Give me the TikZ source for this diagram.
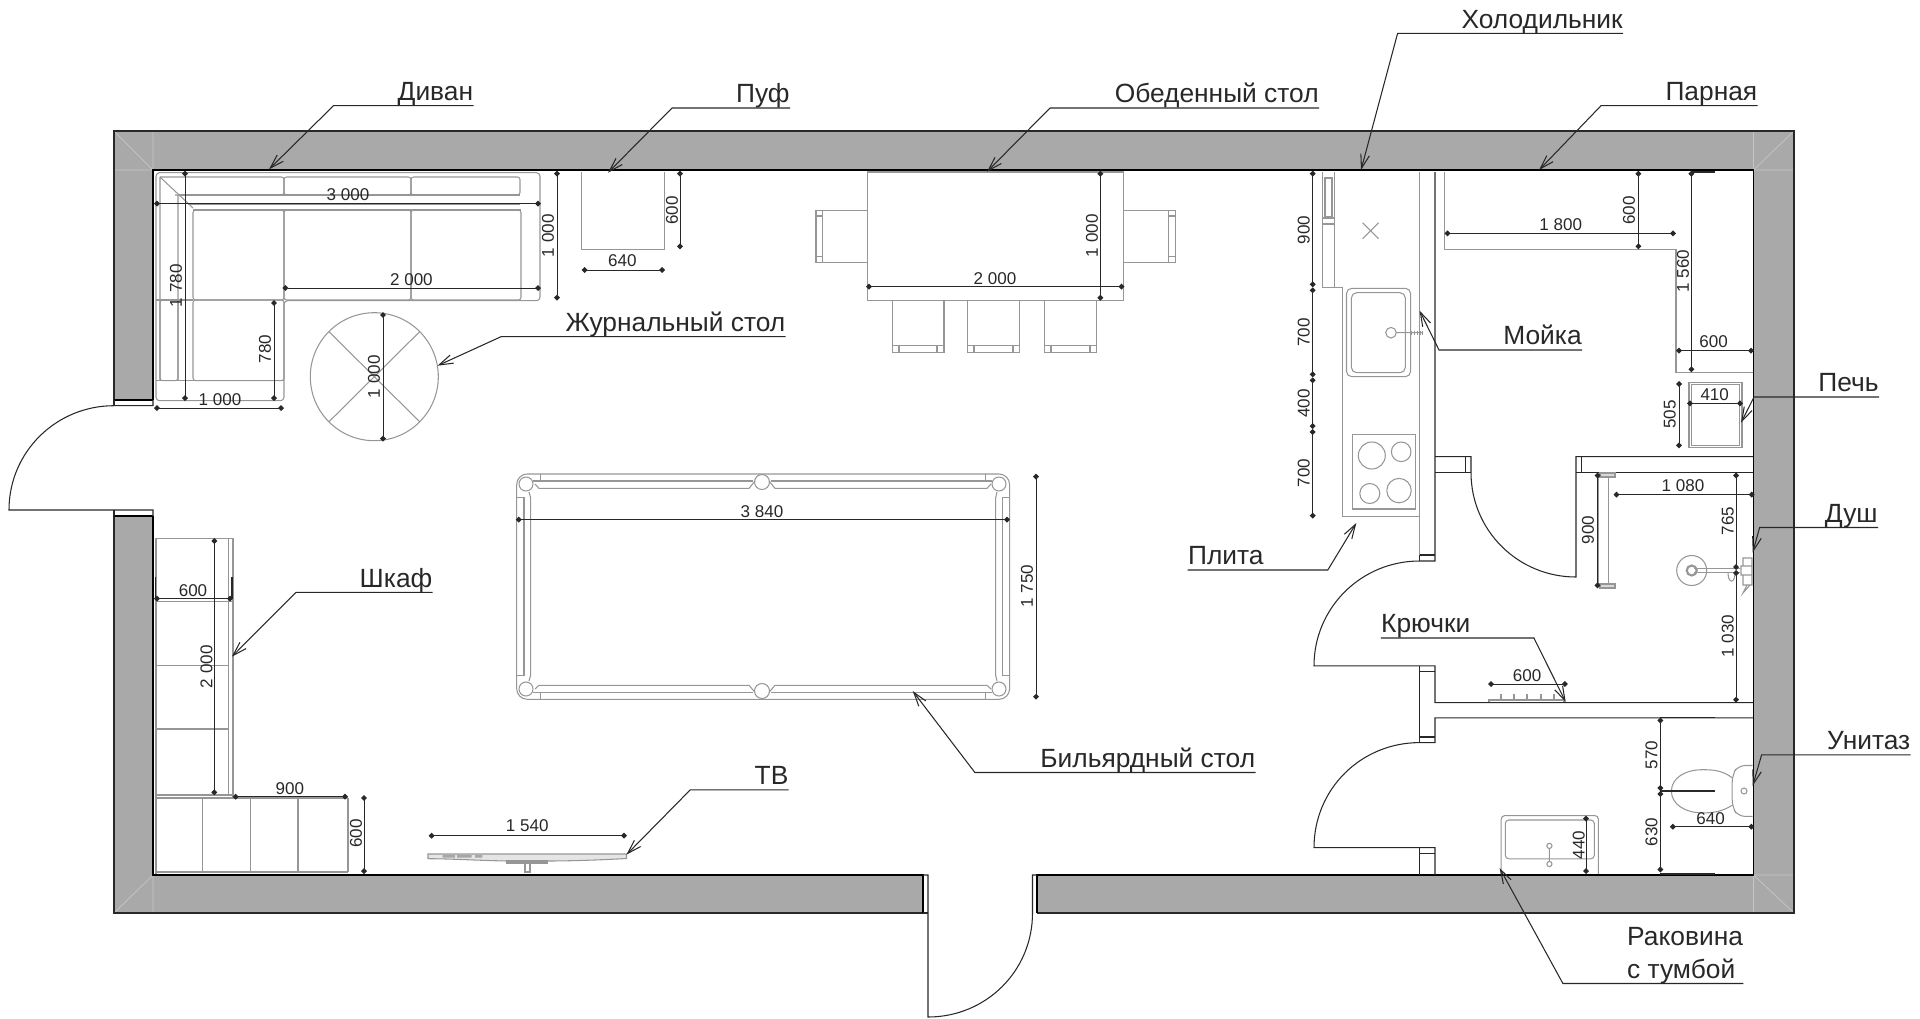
\documentclass[tikz,border=0pt]{standalone}
\usepackage{fontspec}
\setmainfont{Liberation Sans}
\usetikzlibrary{arrows.meta}
\definecolor{wallgray}{RGB}{169,169,169}
\definecolor{furngray}{RGB}{150,150,150}
\definecolor{inkgray}{RGB}{40,40,40}
\tikzset{
	wall/.style={fill=wallgray,draw=none},
	wallline/.style={draw=black,line width=0.9pt},
	outline/.style={draw=inkgray,line width=0.6pt},
	miter/.style={draw=gray!45,line width=0.4pt},
	thinline/.style={draw=inkgray,line width=0.6pt},
	furn/.style={draw=furngray,line width=0.6pt},
	dimline/.style={draw=inkgray,line width=0.55pt,{Diamond[length=3.4pt,width=3.4pt]}-{Diamond[length=3.4pt,width=3.4pt]}},
	dimtext/.style={font=\fontsize{9.7}{11}\selectfont,text=inkgray,inner sep=0pt},
	vdimtext/.style={dimtext,rotate=90},
	leader/.style={draw=inkgray,line width=0.6pt,-{Straight Barb[length=8pt,width=5pt]}},
	calloutr/.style={font=\fontsize{15}{17.3}\selectfont,text=inkgray,anchor=south east,inner xsep=0pt,inner ysep=2.8pt,text depth=0pt},
	calloutl/.style={calloutr,anchor=south west},
}
\begin{document}
\begin{tikzpicture}[x=0.02cm,y=-0.02cm]
	\useasboundingbox (0,0) rectangle (1920,1018);
	% Walls
	\fill[wall] (114,131) -- (1794,131) -- (1794,913) -- (1037,913) -- (1037,875) -- (1753.5,875) -- (1753.5,170) -- (153,170) -- (153,400) -- (114,400) -- cycle;
	\fill[wall] (114,516) -- (153,516) -- (153,875) -- (923,875) -- (923,913) -- (114,913) -- cycle;
	\draw[miter] (114,131) -- (153,170) (153,131) -- (153,170) -- (114,170);
	\draw[miter] (1794,131) -- (1753.5,170) (1753.5,131) -- (1753.5,170) -- (1794,170);
	\draw[miter] (114,913) -- (153,875) (153,913) -- (153,875);
	\draw[miter] (1794,913) -- (1753.5,875) (1753.5,913) -- (1753.5,875) -- (1794,875);
	\draw[outline] (114,400) -- (114,131) -- (1794,131) -- (1794,913) -- (1037,913);
	\draw[outline] (923,913) -- (114,913) -- (114,516);
	\draw[wallline] (153,400) -- (153,170) -- (1753.5,170) -- (1753.5,875) -- (1037,875) -- (1037,913);
	\draw[wallline] (153,516) -- (153,875) -- (923,875) -- (923,913);
	\draw[wallline] (114,400) -- (153,400) (114,516) -- (153,516);
	% Doors
	\draw[thinline] (153,400) -- (153,405.7) -- (114,405.7) .. controls (56,405.7) and (9,452) .. (9,510) -- (153,510) -- (153,516);
	\draw[thinline] (114,400) -- (114,405.7) (114,510) -- (114,516);
	\draw[thinline] (923,875) -- (928,875) -- (928,1017) .. controls (986,1017) and (1032.5,971) .. (1032.5,913) -- (1032.5,875) -- (1037,875);
	\draw[thinline] (923,913) -- (928,913);
	\draw[thinline] (1435,172) -- (1435,561) -- (1419.6,561) .. controls (1361,561) and (1314,608) .. (1314,665.8) -- (1435,665.8) -- (1435,702.7) -- (1753,702.7);
	\draw[thinline] (1419.6,555) -- (1435,555) (1419.6,555) -- (1419.6,561);
	\draw[thinline] (1419.6,671.7) -- (1435,671.7);
	\draw[thinline] (1753,717.9) -- (1435,717.9) -- (1435,742.6) -- (1419.6,742.6) .. controls (1361,742.6) and (1314,789) .. (1314,847.7) -- (1435,847.7) -- (1435,875);
	\draw[thinline] (1419.6,737) -- (1435,737);
	\draw[thinline] (1419.6,853.3) -- (1435,853.3);
	\draw[thinline] (1419.6,665.8) -- (1419.6,742.6) (1419.6,847.7) -- (1419.6,875);
	\draw[thinline] (1435,456.6) -- (1471,456.6) -- (1471,472.5) .. controls (1471,530.5) and (1518,577) .. (1576,577) -- (1576,456.6) -- (1753,456.6);
	\draw[thinline] (1435,472.5) -- (1471,472.5) (1465.7,456.6) -- (1465.7,472.5);
	\draw[thinline] (1753,472.5) -- (1576,472.5) (1581.5,456.6) -- (1581.5,472.5);
	\draw[furn] (1419.6,172) -- (1419.6,555);
	% Sofa
	\draw[furn,rounded corners=2pt] (156,172.7) -- (540,172.7) -- (540,300.7) -- (284,300.7) -- (284,400.7) -- (156,400.7) -- cycle;
	\draw[furn,rounded corners=1.5pt] (160,177) -- (284,177) -- (284,195) -- (175,195);
	\draw[furn,rounded corners=1.5pt] (284,177) rectangle (411,195);
	\draw[furn,rounded corners=1.5pt] (411,177) rectangle (520,195);
	\draw[furn] (178,195) -- (520,195) (188,204) -- (520,204) (193,210) -- (521,210);
	\draw[furn] (160,177) -- (193,208) (160,177) -- (160,380.7) (178,195) -- (178,380.7);
	\draw[furn,rounded corners=1.5pt] (193,210) rectangle (284,300);
	\draw[furn,rounded corners=1.5pt] (284,210) rectangle (411,300);
	\draw[furn,rounded corners=1.5pt] (411,210) rectangle (521,300);
	\draw[furn] (156,300) -- (193,300);
	\draw[furn,rounded corners=1.5pt] (160,300) rectangle (178,380.7);
	\draw[furn,rounded corners=1.5pt] (193,300) rectangle (284,380.7);
	\draw[furn] (156,380.7) -- (284,380.7);
	% Coffee table and pouf
	\draw[furn] (374.3,376.7) circle[radius=64];
	\draw[furn] (329,331.7) -- (419.6,421.7) (419.6,331.7) -- (329,421.7);
	\draw[furn] (581.6,172) -- (581.6,249.3) -- (664.5,249.3) -- (664.5,172);
	% Dining table
	\draw[furn] (867.3,172) rectangle (1123.7,300.7);
	\draw[furn] (867.3,210.7) -- (816,210.7) -- (816,262.3) -- (867.3,262.3);
	\draw[furn] (822.9,210.7) -- (822.9,262.3) (816,216) -- (822.9,216) (816,256.7) -- (822.9,256.7);
	\draw[furn] (1123.7,210.7) -- (1175.5,210.7) -- (1175.5,262.3) -- (1123.7,262.3);
	\draw[furn] (1168.6,210.7) -- (1168.6,262.3) (1168.6,216) -- (1175.5,216) (1168.6,256.7) -- (1175.5,256.7);
	\draw[furn] (892.2,300.7) -- (892.2,352.3) -- (944,352.3) -- (944,300.7) (892.2,345.7) -- (944,345.7) (899,345.7) -- (899,352.3) (937,345.7) -- (937,352.3);
	\draw[furn] (967.3,300.7) -- (967.3,352.3) -- (1019.6,352.3) -- (1019.6,300.7) (967.3,345.7) -- (1019.6,345.7) (974,345.7) -- (974,352.3) (1013,345.7) -- (1013,352.3);
	\draw[furn] (1044.5,300.7) -- (1044.5,352.3) -- (1096.7,352.3) -- (1096.7,300.7) (1044.5,345.7) -- (1096.7,345.7) (1051,345.7) -- (1051,352.3) (1090,345.7) -- (1090,352.3);
	% Billiard table
	\draw[furn,rounded corners=6pt] (516.7,474) rectangle (1009.6,699.3);
	\draw[furn] (533,481) -- (753,481) (771,481) -- (992,481) (533,692.3) -- (753,692.3) (771,692.3) -- (992,692.3);
	\draw[furn] (540.7,474) -- (540.7,481) (985.6,474) -- (985.6,481) (540.7,692.3) -- (540.7,699.3) (985.6,692.3) -- (985.6,699.3);
	\draw[furn] (535,484) -- (539,488.3) -- (749,488.3) -- (755,481) (769,481) -- (775,488.3) -- (987,488.3) -- (991,484);
	\draw[furn] (535,689) -- (539,685.3) -- (749,685.3) -- (755,692.3) (769,692.3) -- (775,685.3) -- (987,685.3) -- (991,689);
	\draw[furn] (516.7,497.3) -- (524,497.3) -- (524,675.3) -- (516.7,675.3);
	\draw[furn] (1009.6,497.3) -- (1002.3,497.3) -- (1002.3,675.3) -- (1009.6,675.3);
	\draw[furn] (529,492) -- (530.7,498) -- (530.7,675) -- (529,681);
	\draw[furn] (997,492) -- (995.6,498) -- (995.6,675) -- (997,681);
	\draw[furn] (526,484) circle[radius=7] (999,484) circle[radius=7] (526,689) circle[radius=7] (999,689) circle[radius=7];
	\draw[furn] (762,482) circle[radius=7.5] (762,691) circle[radius=7.5];
	% Wardrobe and cabinet
	\draw[furn] (156,538.3) -- (233,538.3) -- (233,798);
	\draw[furn] (228.6,538.3) -- (228.6,796);
	\draw[furn] (156,538.3) -- (156,874);
	\draw[furn] (156,601.7) -- (233,601.7) (156,665.7) -- (229,665.7) (156,729) -- (229,729) (156,795) -- (233,795) (156,798) -- (348,798);
	\draw[furn] (202.9,798) -- (202.9,872) (250.2,798) -- (250.2,872) (298,798) -- (298,872) (348,798) -- (348,872) (156,872) -- (348,872);
	\draw[thinline] (155.5,577) -- (155.5,598.7) (232,577) -- (232,598.7);
	% TV
	\draw[furn,fill=gray!20] (428,854) -- (626.5,854) -- (626.5,858.5) .. controls (600,860) and (570,861) .. (547,861) -- (507,861) .. controls (480,860.5) and (450,858.7) .. (428,858.7) -- cycle;
	\fill[gray!70] (442.7,855) rectangle (455,857.5) (457,855) rectangle (471.7,857.5) (475,855) rectangle (482.3,857.5);
	\draw[furn,fill=gray!20] (507,861) rectangle (547,863);
	\draw[furn] (525,863) rectangle (530,872);
	% Kitchen
	\draw[furn] (1322.9,172) -- (1322.9,287.3) -- (1342.4,287.3) (1334.3,172) -- (1334.3,287.3);
	\draw[furn] (1325,178) rectangle (1332,216.7) (1322.9,218) -- (1334.3,218) (1322.9,224) -- (1334.3,224);
	\draw[furn] (1362.6,222.7) -- (1378.6,238.7) (1362.6,238.7) -- (1378.6,222.7);
	\draw[furn] (1342.4,287.3) -- (1342.4,516.4) -- (1419.6,516.4);
	\draw[furn,rounded corners=3pt] (1346.5,288.3) rectangle (1410.6,376.7);
	\draw[furn,rounded corners=3pt] (1351.4,292.7) rectangle (1405.3,372.7);
	\draw[furn] (1391,332.7) circle[radius=5.3] (1396,332.7) -- (1423,332.7);
	\draw[furn,line width=2.4pt,dash pattern=on 0.8pt off 0.8pt] (1411,332.7) -- (1423,332.7);
	\draw[furn] (1352.7,434.3) rectangle (1415.5,509);
	\draw[furn] (1371.8,455.5) circle[radius=13.5] (1401.2,451.8) circle[radius=9.8];
	\draw[furn] (1369.8,493.5) circle[radius=10] (1399,490.6) circle[radius=12.2];
	% Steam room
	\draw[furn] (1444.5,172) -- (1444.5,249.3) -- (1676,249.3) -- (1676,372.3) -- (1753,372.3);
	\draw[furn] (1689,382.3) rectangle (1742,447.7);
	\draw[furn] (1691.5,384.5) rectangle (1739.5,445.5);
	\draw[thinline] (1691.4,172) -- (1714.7,172);
	% Shower
	\draw[furn] (1598.4,476) -- (1598.4,585) (1608.6,476) -- (1608.6,585);
	\draw[furn,fill=gray!30] (1600,473) rectangle (1615,477) (1600,584) rectangle (1615,588);
	\draw[furn] (1691.7,570.5) circle[radius=15];
	\draw[furn,line width=1.2pt] (1691.7,570.5) circle[radius=5];
	\draw[furn] (1694,568.5) -- (1740,568.5) (1694,572.5) -- (1740,572.5);
	\draw[furn] (1735,572.5) .. controls (1735,584) and (1728,584) .. (1728,572.5);
	\draw[furn] (1743,558) rectangle (1752,566) (1741,566) rectangle (1752,575) (1743,575) rectangle (1752,585) (1747,585) -- (1743,593) -- (1750,585);
	% Hooks
	\draw[furn] (1489,702) -- (1489,700) -- (1564,700) -- (1564,702);
	\draw[furn,line width=1.2pt] (1501,694) -- (1501,700) (1514,694) -- (1514,700) (1527.3,694) -- (1527.3,700) (1541,694) -- (1541,700) (1554,694) -- (1554,700);
	% Toilet and basin
	\draw[furn] (1732.5,778) .. controls (1722,770) and (1712,769.7) .. (1702.4,769.7) .. controls (1685,769.7) and (1671.4,778) .. (1671.4,791.3) .. controls (1671.4,804) and (1685,812.9) .. (1702.4,812.9) .. controls (1712,812.9) and (1722,812) .. (1732.5,805);
	\draw[furn,rounded corners=4pt] (1752.7,765.5) -- (1738,765.5) -- (1732.2,775) -- (1732.2,807) -- (1738,816.4) -- (1752.7,816.4);
	\draw[furn] (1744,791) circle[radius=3];
	\draw[furn,rounded corners=2pt] (1501.2,874) -- (1501.2,815.6) -- (1598.4,815.6) -- (1598.4,874);
	\draw[furn,rounded corners=2pt] (1505.3,820) rectangle (1594.3,858.8);
	\draw[furn] (1549.4,845.9) circle[radius=2.6] (1549.4,848.5) -- (1549.4,862) (1549.4,864) circle[radius=2.6];
	% Dimensions
	\draw[dimline] (154,203.7) -- (541,203.7);
	\draw[dimline] (185,170.7) -- (185,401);
	\draw[dimline] (282.4,288) -- (541,288);
	\draw[dimline] (274,300) -- (274,401);
	\draw[dimline] (154,408) -- (284,408);
	\draw[dimline] (557,170.7) -- (557,300.7);
	\draw[dimline] (383,312) -- (383,441.7);
	\draw[dimline] (680,170.7) -- (680,249.3);
	\draw[dimline] (581.6,270) -- (665,270);
	\draw[dimline] (866,286.7) -- (1124.5,286.7);
	\draw[dimline] (1100.4,170.7) -- (1100.4,300.7);
	\draw[dimline] (515.7,519.6) -- (1010,519.6);
	\draw[dimline] (1036,473.6) -- (1036,699.7);
	\draw[dimline] (154,598.7) -- (233,598.7);
	\draw[dimline] (214.3,538) -- (214.3,795.3);
	\draw[dimline] (232.7,796.7) -- (348,796.7);
	\draw[dimline] (364,795) -- (364,874);
	\draw[dimline] (428.6,835.7) -- (627,835.7);
	\draw[dimline] (1312.7,170.7) -- (1312.7,287.3);
	\draw[dimline] (1312.7,287.3) -- (1312.7,377.3);
	\draw[dimline] (1312.7,377.3) -- (1312.7,429);
	\draw[dimline] (1312.7,429) -- (1312.7,518.6);
	\draw[dimline] (1444.5,233.3) -- (1676,233.3);
	\draw[dimline] (1638.4,170.7) -- (1638.4,249.3);
	\draw[dimline] (1691.4,170.7) -- (1691.4,372.3);
	\draw[dimline] (1676,350.7) -- (1754,350.7);
	\draw[dimline] (1687,403.3) -- (1743,403.3);
	\draw[dimline] (1679,381) -- (1679,448.3);
	\draw[dimline] (1613.5,494.6) -- (1754.7,494.6);
	\draw[dimline] (1736,472.5) -- (1736,570);
	\draw[dimline] (1736,570) -- (1736,702.7);
	\draw[dimline] (1597.5,472.5) -- (1597.5,588.3);
	\draw[dimline] (1488,684) -- (1567.8,684);
	\draw[dimline] (1660.4,717.5) -- (1660.4,791);
	\draw[dimline] (1660.4,791) -- (1660.4,872.5);
	\draw[thinline] (1660.4,791) -- (1714.7,791);
	\draw[thinline] (1660.4,717.9) -- (1714.7,717.9) (1660.4,874) -- (1714.7,874);
	\draw[dimline] (1669.8,826.7) -- (1754.3,826.7);
	\draw[dimline] (1586,815.6) -- (1586,874);
	% Dimension labels
	\node[dimtext] (sofawidth) at (348,195) {3 000};
	\node[vdimtext] (sofadepth) at (176,285.7) {1 780};
	\node[dimtext] (seatwidth) at (411.4,280) {2 000};
	\node[vdimtext] (seatdepth) at (265,349) {780};
	\node[dimtext] (sofaend) at (220,400) {1 000};
	\node[vdimtext] (sofaarm) at (548,235.7) {1 000};
	\node[vdimtext] (coffee) at (374,376.7) {1 000};
	\node[vdimtext] (poufdepth) at (672,210.7) {600};
	\node[dimtext] (poufwidth) at (622.4,261) {640};
	\node[dimtext] (tablewidth) at (995,279) {2 000};
	\node[vdimtext] (tabledepth) at (1092,235.7) {1 000};
	\node[dimtext] (billiardwidth) at (762,511.6) {3 840};
	\node[vdimtext] (billiarddepth) at (1027,585.9) {1 750};
	\node[dimtext] (wardrobedepth) at (193,590.7) {600};
	\node[vdimtext] (wardrobewidth) at (206.5,666.7) {2 000};
	\node[dimtext] (cabinetwidth) at (289.8,788.3) {900};
	\node[vdimtext] (cabinetdepth) at (356,833.3) {600};
	\node[dimtext] (tvwidth) at (527.3,826) {1 540};
	\node[vdimtext] (fridgewidth) at (1303.7,230) {900};
	\node[vdimtext] (sinkwidth) at (1303.7,332.3) {700};
	\node[vdimtext] (gapwidth) at (1303.7,403.3) {400};
	\node[vdimtext] (stovewidth) at (1303.7,473.2) {700};
	\node[dimtext] (benchwidth) at (1560.8,224.3) {1 800};
	\node[vdimtext] (benchdepth) at (1629,210.7) {600};
	\node[vdimtext] (sidebench) at (1682.9,271) {1 560};
	\node[dimtext] (sidedepth) at (1713.5,341.7) {600};
	\node[dimtext] (ovenwidth) at (1714.7,394.3) {410};
	\node[vdimtext] (ovendepth) at (1669.8,414.3) {505};
	\node[dimtext] (showerwidth) at (1683,486) {1 080};
	\node[vdimtext] (showerup) at (1727.8,521) {765};
	\node[vdimtext] (showerdown) at (1727.8,636) {1 030};
	\node[vdimtext] (barlength) at (1588,530) {900};
	\node[dimtext] (hookwidth) at (1527,676) {600};
	\node[vdimtext] (toiletup) at (1651.4,754.8) {570};
	\node[vdimtext] (toiletdown) at (1651.4,831.9) {630};
	\node[dimtext] (toiletdepth) at (1710.6,819) {640};
	\node[vdimtext] (basindepth) at (1578.8,844.8) {440};
	% Callouts
	\node[calloutr] (divan) at (473.5,105.7) {Диван};
	\coordinate (divanbend) at (333.5,105.7);
	\coordinate (divantip) at (269,169.3);
	\draw[leader] (divan.south east) -- (divanbend) -- (divantip);
	\node[calloutr] (puf) at (790,108) {Пуф};
	\coordinate (pufbend) at (672,108);
	\coordinate (puftip) at (608,172.7);
	\draw[leader] (puf.south east) -- (pufbend) -- (puftip);
	\node[calloutr] (dining) at (1319,108) {Обеденный стол};
	\coordinate (diningbend) at (1050,108);
	\coordinate (diningtip) at (987,171.7);
	\draw[leader] (dining.south east) -- (diningbend) -- (diningtip);
	\node[calloutr] (fridge) at (1623,33.3) {Холодильник};
	\coordinate (fridgebend) at (1397.6,33.3);
	\coordinate (fridgetip) at (1361,170);
	\draw[leader] (fridge.south east) -- (fridgebend) -- (fridgetip);
	\node[calloutr] (steam) at (1757.6,105.7) {Парная};
	\coordinate (steambend) at (1601,105.7);
	\coordinate (steamtip) at (1539,170);
	\draw[leader] (steam.south east) -- (steambend) -- (steamtip);
	\node[calloutr] (coffeetable) at (785.7,336.7) {Журнальный стол};
	\coordinate (coffeebend) at (501,336.7);
	\coordinate (coffeetip) at (437.5,365.7);
	\draw[leader] (coffeetable.south east) -- (coffeebend) -- (coffeetip);
	\node[calloutr] (sink) at (1582,350) {Мойка};
	\coordinate (sinkbend) at (1439,350);
	\coordinate (sinktip) at (1419.6,310.7);
	\draw[leader] (sink.south east) -- (sinkbend) -- (sinktip);
	\node[calloutr] (oven) at (1879,397) {Печь};
	\coordinate (ovenbend) at (1754,397);
	\coordinate (oventip) at (1741,422.7);
	\draw[leader] (oven.south east) -- (ovenbend) -- (oventip);
	\node[calloutl] (stove) at (1187.7,570) {Плита};
	\coordinate (stovebend) at (1327.8,570);
	\coordinate (stovetip) at (1356.3,523);
	\draw[leader] (stove.south west) -- (stovebend) -- (stovetip);
	\node[calloutr] (shower) at (1878,527.5) {Душ};
	\coordinate (showerbend) at (1759.6,527.5);
	\coordinate (showertip) at (1752.7,552.5);
	\draw[leader] (shower.south east) -- (showerbend) -- (showertip);
	\node[calloutl] (hooks) at (1380.8,638) {Крючки};
	\coordinate (hooksbend) at (1533.9,638);
	\coordinate (hookstip) at (1565.7,702);
	\draw[leader] (hooks.south west) -- (hooksbend) -- (hookstip);
	\node[calloutr] (toilet) at (1910.6,754.8) {Унитаз};
	\coordinate (toiletbend) at (1761.6,754.8);
	\coordinate (toilettip) at (1752.7,785.8);
	\draw[leader] (toilet.south east) -- (toiletbend) -- (toilettip);
	\node[calloutr,align=left] (basin) at (1743.3,983.5) {Раковина\\[1.2pt]с тумбой};
	\coordinate (basinbend) at (1562.9,983.5);
	\coordinate (basintip) at (1499.6,868);
	\draw[leader] (basin.south east) -- (basinbend) -- (basintip);
	\node[calloutr] (billiard) at (1255.5,772.5) {Бильярдный стол};
	\coordinate (billiardbend) at (974.9,772.5);
	\coordinate (billiardtip) at (912.7,691);
	\draw[leader] (billiard.south east) -- (billiardbend) -- (billiardtip);
	\node[calloutr] (tv) at (788.7,789.9) {ТВ};
	\coordinate (tvbend) at (690.2,789.9);
	\coordinate (tvtip) at (626.4,854.7);
	\draw[leader] (tv.south east) -- (tvbend) -- (tvtip);
	\node[calloutr] (wardrobe) at (432.7,592.3) {Шкаф};
	\coordinate (wardrobebend) at (296,592.3);
	\coordinate (wardrobetip) at (231.8,656.7);
	\draw[leader] (wardrobe.south east) -- (wardrobebend) -- (wardrobetip);
\end{tikzpicture}
\end{document}
